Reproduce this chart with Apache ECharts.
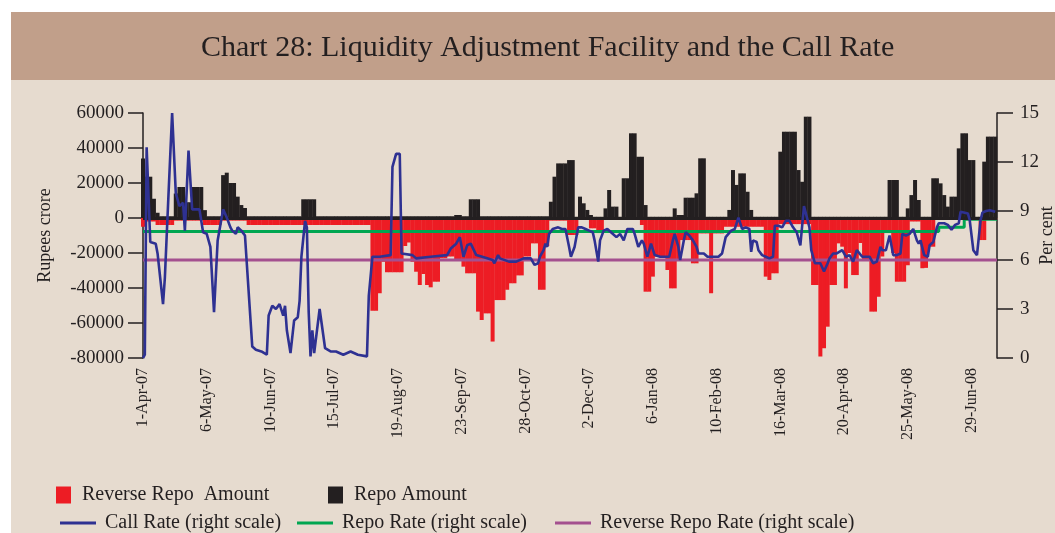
<!DOCTYPE html>
<html><head><meta charset="utf-8">
<script src="https://cdn.jsdelivr.net/npm/echarts@6/dist/echarts.min.js"></script>
<style>html,body{margin:0;padding:0;background:#fff;}#c{width:1055px;height:533px;}</style>
</head><body><div id="c"></div>
<script>
// x-axis tick labels (every 35 days from 1-Apr-07)
const tickLabels = ["1-Apr-07","6-May-07","10-Jun-07","15-Jul-07","19-Aug-07","23-Sep-07","28-Oct-07","2-Dec-07","6-Jan-08","10-Feb-08","16-Mar-08","20-Apr-08","25-May-08","29-Jun-08"];
const lastDay = 469;
const barStep = 2; // bar samples every 2 days from 1-Apr-07

// Repo amount (Rupees crore), one value per 2-day step
const repoAmt = [
34000,23600,23600,11000,3000,1000,1000,1000,1000,14000,
17700,17700,9000,9000,17700,17700,17700,4500,1000,1000,
1000,1000,24500,25900,20000,20000,12200,7400,5700,1000,
1000,1000,1000,1000,1000,1000,1000,1000,1000,1000,
1000,1000,1000,1000,10700,10700,10700,10700,1000,1000,
1000,1000,1000,1000,1000,1000,1000,1000,1000,1000,
1000,1000,1000,1000,1000,1000,1000,1000,1000,1000,
1000,1000,1000,1000,1000,1000,1000,1000,1000,1000,
1000,1000,1000,1000,1000,1000,1700,1700,1000,1000,
10700,10700,10700,1000,1000,1000,1000,1000,1000,1000,
1000,1000,1000,1000,1000,1000,1000,1000,1000,1000,
1000,1000,9300,23600,31200,31200,31200,33100,33100,700,
12200,8400,4600,1700,700,700,700,5500,16000,6500,
6500,700,22700,22700,48400,48400,35000,35000,7400,700,
700,700,700,700,700,700,5500,1700,1700,11600,
11600,11600,14100,34100,34100,700,700,700,700,700,
700,4600,27400,18900,25500,25500,15000,4600,700,700,
700,700,700,700,700,37900,49300,49300,49300,49300,
27400,20700,57900,57900,700,700,700,700,700,700,
700,700,700,700,700,700,700,700,700,700,
700,700,700,700,700,21700,21700,21700,700,700,
5500,13100,21700,10300,700,700,700,22700,22700,19800,
13100,6500,12200,12200,39800,48400,48400,33100,33100,700,
700,32200,46500,46500,46500
];

// Reverse repo amount (Rupees crore), one value per 2-day step
const revRepoAmt = [
-5000,-2000,-2000,-2000,-4000,-4000,-4000,-4000,-4000,-1500,
-1500,-1500,-1500,-1500,-1500,-1500,-1500,-4000,-4000,-4000,
-4000,-4000,-1500,-1500,-1500,-1500,-1500,-1500,-1500,-4000,
-4000,-4000,-4000,-4000,-4000,-4000,-4000,-4000,-4000,-4000,
-4000,-4000,-4000,-4000,-4000,-4000,-4000,-4000,-4000,-4000,
-4000,-4000,-4000,-4000,-4000,-4000,-4000,-4000,-4000,-4000,
-4000,-4000,-4000,-53000,-53000,-43000,-25000,-31000,-31000,-31000,
-31000,-31000,-16000,-14000,-25000,-30700,-38300,-32000,-38300,-39600,
-36400,-36400,-23000,-23000,-22000,-22000,-24000,-24000,-27800,-31600,
-31600,-31600,-53500,-58300,-54500,-54500,-70600,-46900,-46900,-46900,
-41000,-37300,-37300,-32800,-32800,-22000,-22000,-14500,-14500,-41000,
-41000,-16000,-1500,-1500,-1500,-1500,-1500,-9700,-9700,-9700,
-1000,-1000,-1000,-5900,-5900,-8600,-8600,-1000,-1000,-1000,
-1000,-1000,-1000,-1000,-1000,-1000,-1000,-4000,-42100,-42100,
-33500,-22100,-22100,-22100,-29700,-40200,-40200,-24000,-12600,-12600,
-12600,-25900,-25900,-8800,-8800,-8800,-43000,-8800,-8800,-8800,
-5000,-5000,-5000,-5000,-5000,-5000,-5000,-5000,-5000,-5000,
-5000,-33500,-35400,-31600,-31600,-3500,-3500,-3500,-3500,-3500,
-3500,-3500,-3500,-3500,-38300,-38300,-79200,-74400,-62100,-38300,
-38300,-14500,-16400,-40200,-20000,-32600,-32600,-14300,-24000,-24000,
-53500,-53500,-45000,-22000,-8600,-8600,-20000,-36400,-36400,-36400,
-27000,-2000,-2000,-2000,-28700,-28500,-16400,-16400,-500,-500,
-500,-500,-500,-500,-500,-500,-500,-500,-500,-500,
-12600,-12600,-500,-500,-500
];

// Call rate (per cent): day index from 1-Apr-07 and value
const callDays = [0,1,2,4,7,8,11,12,13,14,16,18,19,20,22,23,25,27,29,31,33,35,37,39,40,41,42,44,46,48,49,51,52,54,56,60,62,65,68,69,71,73,75,77,78,79,81,82,83,85,86,87,89,90,91,92,93,94,95,97,98,100,103,106,110,114,118,123,124,125,126,130,136,137,139,141,142,148,150,158,167,169,170,172,174,175,176,178,180,181,183,184,189,192,193,195,196,201,205,209,213,215,217,218,220,221,222,223,225,228,230,232,234,235,237,239,241,243,245,247,248,250,251,253,255,257,258,260,262,264,266,269,270,272,274,275,277,279,281,284,287,289,291,292,294,295,297,298,300,302,304,305,308,310,313,316,318,320,321,323,325,327,329,331,333,334,335,337,338,340,342,344,346,347,349,351,353,355,357,359,361,363,364,366,367,369,370,372,374,376,377,379,381,384,386,388,390,392,393,395,399,401,403,405,406,408,410,412,414,416,417,419,421,423,425,426,427,429,431,432,434,436,437,440,442,444,446,448,449,450,453,454,456,458,460,461,463,465,468];
const callRate = [0.0,0.2,12.9,7.1,7.0,6.4,3.3,4.9,5.0,10.0,15.0,10.1,9.7,9.3,9.5,7.8,12.7,9.1,9.1,9.1,7.7,7.6,6.8,2.8,2.9,7.2,7.3,9.1,8.6,8.0,7.8,7.6,8.0,7.8,7.5,0.7,0.5,0.4,0.2,2.6,3.2,3.0,3.3,2.6,3.2,1.7,0.3,0.4,2.3,2.5,3.5,6.2,8.4,8.0,2.8,0.1,1.7,0.3,0.3,3.0,2.9,0.6,0.4,0.4,0.2,0.4,0.2,0.1,3.8,3.8,6.2,6.2,6.3,11.7,12.5,12.5,6.4,6.3,6.1,6.2,6.3,6.7,6.6,7.0,7.4,7.3,6.2,6.9,7.0,7.0,6.3,6.2,6.1,6.0,5.8,6.3,6.1,5.9,5.9,6.1,6.1,5.7,5.8,6.2,6.6,7.0,6.8,7.6,7.9,8.0,7.9,7.9,6.8,6.2,6.8,8.0,8.0,7.9,7.8,7.7,7.2,5.9,7.2,7.8,7.9,7.7,7.6,7.4,7.6,7.2,7.9,7.9,7.6,6.8,7.2,7.0,6.2,7.0,6.3,6.2,6.2,6.2,7.2,7.6,6.8,6.0,7.2,7.7,7.5,7.2,6.8,6.4,6.4,6.2,6.2,6.2,6.4,7.4,7.5,7.8,7.9,8.6,7.9,8.0,7.9,6.5,7.2,7.1,6.6,6.3,6.2,6.1,6.2,8.1,8.1,8.0,8.4,8.4,8.0,7.7,6.9,9.3,9.3,8.0,6.6,5.8,5.7,5.8,5.3,5.8,6.1,6.4,6.4,6.6,6.2,6.3,5.9,6.6,6.5,6.2,6.2,5.8,5.9,6.8,6.6,6.6,7.5,6.3,6.3,6.4,7.6,7.5,7.6,7.9,7.2,7.0,7.2,6.3,6.2,6.9,7.1,8.0,8.25,8.25,8.15,7.85,8.15,8.25,8.95,9.05,8.85,8.45,6.6,6.3,8.45,8.9,9.0,9.05,8.95];

// Policy rates (per cent): change days and values
const repoRateDays = [0,437,451,469];
const repoRate = [7.75,8.0,8.5,8.5];
const revRepoRateDays = [0,469];
const revRepoRate = [6.0,6.0];

const FONT = "'Liberation Serif', 'DejaVu Serif', serif";
const TXT = '#231f20';

const pairs = (xs, ys) => xs.map((x, i) => [x, ys[i]]);
const barPairs = ys => ys.map((v, i) => [i * barStep, v]);

const chart = echarts.init(document.getElementById('c'), null, {renderer: 'canvas'});
chart.setOption({
  backgroundColor: '#ffffff',
  animation: false,
  graphic: [
    {type: 'rect', shape: {x: 11, y: 12, width: 1044, height: 68}, style: {fill: '#c19f8a'}, z: -10},
    {type: 'rect', shape: {x: 11, y: 80, width: 1044, height: 453}, style: {fill: '#e6dbcf'}, z: -10}
  ],
  title: {
    text: 'Chart 28: Liquidity Adjustment Facility and the Call Rate',
    left: 196, top: 28,
    textStyle: {fontFamily: FONT, fontSize: 30, fontWeight: 'normal', color: TXT}
  },
  grid: {left: 143, right: 58, top: 113, bottom: 175, containLabel: false, outerBoundsMode: 'none'},
  legend: [
    {data: ['Reverse Repo  Amount'], left: 56, top: 485, padding: 0, icon: 'rect', itemWidth: 15, itemHeight: 17,
     textStyle: {fontFamily: FONT, fontSize: 20, color: TXT, padding: [0, 0, 0, 6]}},
    {data: ['Repo Amount'], left: 328, top: 485, padding: 0, icon: 'rect', itemWidth: 15, itemHeight: 17,
     textStyle: {fontFamily: FONT, fontSize: 20, color: TXT, padding: [0, 0, 0, 6]}},
    {data: ['Call Rate (right scale)'], left: 60, top: 513, padding: 0, icon: 'rect', itemWidth: 36, itemHeight: 3,
     textStyle: {fontFamily: FONT, fontSize: 20, color: TXT, padding: [0, 0, 0, 4]}},
    {data: ['Repo Rate (right scale)'], left: 297, top: 513, padding: 0, icon: 'rect', itemWidth: 36, itemHeight: 3,
     textStyle: {fontFamily: FONT, fontSize: 20, color: TXT, padding: [0, 0, 0, 4]}},
    {data: ['Reverse Repo Rate (right scale)'], left: 555, top: 513, padding: 0, icon: 'rect', itemWidth: 36, itemHeight: 3,
     textStyle: {fontFamily: FONT, fontSize: 20, color: TXT, padding: [0, 0, 0, 4]}}
  ],
  xAxis: {
    type: 'value', min: 0, max: lastDay, interval: 35,
    axisLine: {show: false}, axisTick: {show: false}, splitLine: {show: false},
    axisLabel: {
      rotate: 90, margin: 10, fontFamily: FONT, fontSize: 16, color: TXT,
      showMaxLabel: false,
      formatter: v => (v % 35 === 0 && tickLabels[v / 35]) ? tickLabels[v / 35] : ''
    }
  },
  yAxis: [
    {
      type: 'value', min: -80000, max: 60000, interval: 20000, position: 'left',
      name: 'Rupees crore', nameLocation: 'middle', nameGap: 89, nameRotate: 90, nameMoveOverlap: false,
      nameTextStyle: {fontFamily: FONT, fontSize: 18, color: TXT},
      axisLine: {show: true, lineStyle: {color: TXT, width: 1.5}},
      axisTick: {show: true, length: 15, lineStyle: {color: TXT, width: 1.5}},
      axisLabel: {margin: 19, fontFamily: FONT, fontSize: 19, color: TXT, formatter: v => String(v)},
      splitLine: {show: false}
    },
    {
      type: 'value', min: 0, max: 15, interval: 3, position: 'right',
      name: 'Per cent', nameLocation: 'middle', nameGap: 41, nameRotate: 90, nameMoveOverlap: false,
      nameTextStyle: {fontFamily: FONT, fontSize: 18, color: TXT},
      axisLine: {show: true, lineStyle: {color: TXT, width: 1.5}},
      axisTick: {show: true, length: 16, lineStyle: {color: TXT, width: 1.5}},
      axisLabel: {margin: 23, fontFamily: FONT, fontSize: 19, color: TXT, formatter: v => String(v)},
      splitLine: {show: false}
    }
  ],
  series: [
    {
      name: 'Reverse Repo  Amount', type: 'bar', yAxisIndex: 0, barWidth: 4, barGap: '-100%',
      itemStyle: {color: '#ed1c24'}, data: barPairs(revRepoAmt), z: 2
    },
    {
      name: 'Repo Amount', type: 'bar', yAxisIndex: 0, barWidth: 4, barGap: '-100%',
      itemStyle: {color: '#231f20'}, data: barPairs(repoAmt), z: 2,
      markLine: {silent: true, symbol: 'none', label: {show: false},
        lineStyle: {color: '#231f20', width: 3, type: 'solid'}, data: [{yAxis: 0}]}
    },
    {
      name: 'Reverse Repo Rate (right scale)', type: 'line', yAxisIndex: 1, showSymbol: false,
      lineStyle: {color: '#a4508f', width: 3}, itemStyle: {color: '#a4508f'},
      data: pairs(revRepoRateDays, revRepoRate), z: 3
    },
    {
      name: 'Repo Rate (right scale)', type: 'line', yAxisIndex: 1, showSymbol: false, step: 'end',
      lineStyle: {color: '#00a651', width: 3}, itemStyle: {color: '#00a651'},
      data: pairs(repoRateDays, repoRate), z: 4
    },
    {
      name: 'Call Rate (right scale)', type: 'line', yAxisIndex: 1, showSymbol: false,
      lineStyle: {color: '#2e3192', width: 2.6}, itemStyle: {color: '#2e3192'},
      data: pairs(callDays, callRate), z: 5
    }
  ]
});
</script></body></html>
